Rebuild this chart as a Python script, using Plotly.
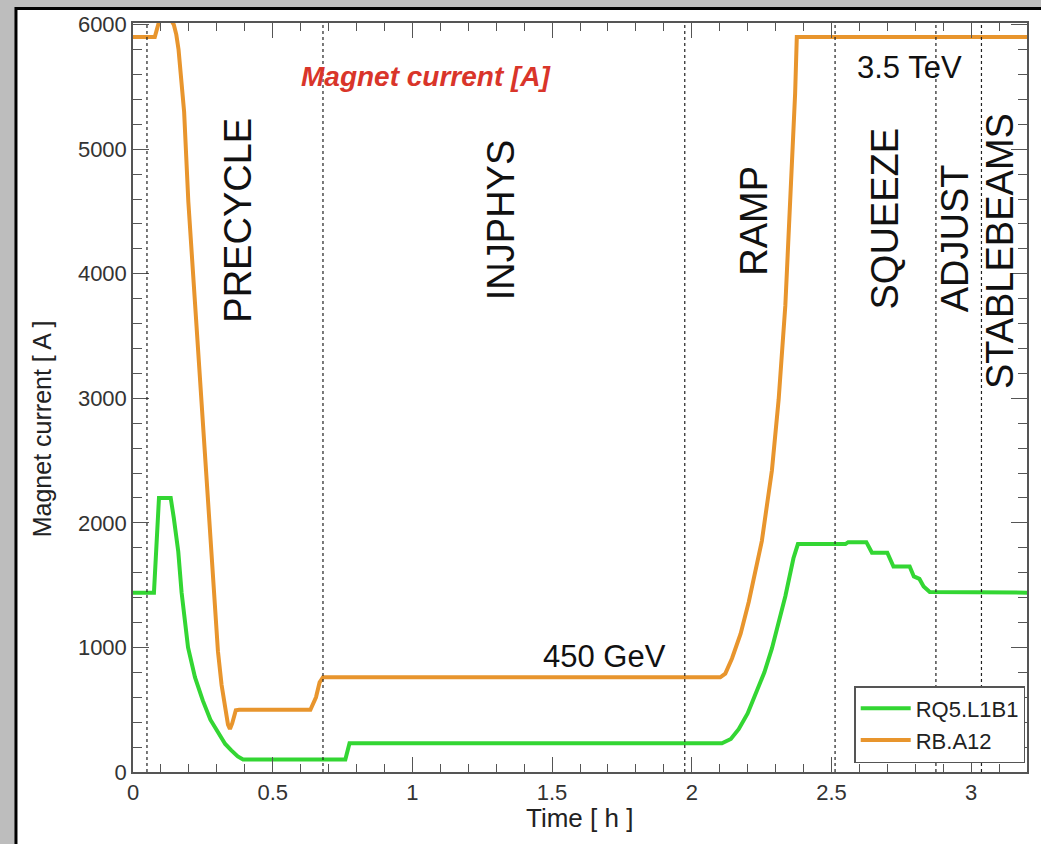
import plotly.graph_objects as go

# ---------------- data ----------------
rq5_time = [0, 0.075, 0.093, 0.135, 0.146, 0.162, 0.174, 0.197, 0.222, 0.25, 0.277, 0.305, 0.33,
            0.352, 0.375, 0.394, 0.76, 0.775, 2.108, 2.14, 2.168, 2.2, 2.227, 2.26, 2.287, 2.335,
            2.364, 2.38, 2.55, 2.56, 2.625, 2.645, 2.70, 2.722, 2.78, 2.795, 2.815, 2.83, 2.852, 3.2]
rq5_current = [1440, 1440, 2200, 2200, 2040, 1770, 1440, 1000, 760, 573, 420, 310, 225,
               173, 125, 100, 100, 230, 230, 265, 344, 470, 611, 800, 992, 1411,
               1716, 1830, 1830, 1845, 1845, 1760, 1760, 1650, 1650, 1570, 1550, 1490, 1445, 1440]

rb_time = [0, 0.078, 0.094, 0.138, 0.146, 0.155, 0.163, 0.172, 0.183, 0.198, 0.257, 0.304, 0.317,
           0.33, 0.34, 0.347, 0.355, 0.368, 0.38, 0.635, 0.655, 0.668, 0.68, 2.102, 2.12, 2.144,
           2.175, 2.204, 2.251, 2.287, 2.311, 2.335, 2.352, 2.37, 2.376, 3.2]
rb_current = [5900, 5900, 6030, 6030, 6000, 5920, 5800, 5600, 5300, 4580, 2570, 970, 700,
              500, 380, 345, 390, 495, 500, 500, 600, 720, 760, 760, 790, 911,
              1110, 1365, 1856, 2423, 2990, 3746, 4501, 5446, 5900, 5900]

series_names = ["RQ5.L1B1", "RB.A12"]
series_colors = ["#33d633", "#e8952d"]

phase_bounds = [0.05, 0.68, 1.975, 2.513, 2.874, 3.037]
phase_names = ["PRECYCLE", "INJPHYS", "RAMP", "SQUEEZE", "ADJUST", "STABLEBEAMS"]
phase_label_t = [0.375, 1.32, 2.224, 2.692, 2.942, 3.106]
phase_label_a = [4432, 4428, 4428, 4444, 4284, 4180]

x_ticks = [0, 0.5, 1, 1.5, 2, 2.5, 3]
x_ticktext = ["0", "0.5", "1", "1.5", "2", "2.5", "3"]
y_ticks = [0, 1000, 2000, 3000, 4000, 5000, 6000]
y_ticktext = ["0", "1000", "2000", "3000", "4000", "5000", "6000"]

FONT = "Liberation Sans, Arial, Helvetica, sans-serif"

fig = go.Figure()
fig.add_trace(go.Scatter(x=rq5_time, y=rq5_current, mode="lines", name=series_names[0],
                         line=dict(color=series_colors[0], width=4)))
fig.add_trace(go.Scatter(x=rb_time, y=rb_current, mode="lines", name=series_names[1],
                         line=dict(color=series_colors[1], width=4)))

shapes = [
    dict(type="rect", xref="paper", yref="paper", x0=-0.1309, x1=1.3, y0=-0.3, y1=1.0193,
         fillcolor="white", line=dict(color="black", width=3), layer="below"),
]
for b in phase_bounds:
    shapes.append(dict(type="line", xref="x", yref="paper", x0=b, x1=b, y0=0, y1=1,
                       line=dict(color="#222", width=1.2, dash="3px,3px"), layer="above"))

annotations = []
for name, t, a in zip(phase_names, phase_label_t, phase_label_a):
    annotations.append(dict(x=t, y=a, xref="x", yref="y", text=name, textangle=-90,
                            showarrow=False, font=dict(family=FONT, size=38, color="#111"),
                            xanchor="center", yanchor="middle"))
annotations += [
    dict(x=1.052, y=5580, xref="x", yref="y", text="<b><i>Magnet current [A]</i></b>",
         showarrow=False, xanchor="center", yanchor="middle",
         font=dict(family=FONT, size=28, color="#d9352a")),
    dict(x=1.688, y=925, xref="x", yref="y", text="450 GeV", xanchor="center", yanchor="middle",
         showarrow=False, font=dict(family=FONT, size=31, color="#111")),
    dict(x=2.778, y=5659, xref="x", yref="y", text="3.5 TeV", xanchor="center", yanchor="middle",
         showarrow=False, font=dict(family=FONT, size=31, color="#111")),
    dict(x=-0.1019, y=0.4588, xref="paper", yref="paper", text="Magnet current [ A ]",
         textangle=-90, showarrow=False, xanchor="center", yanchor="middle",
         font=dict(family=FONT, size=25, color="#222")),
    dict(x=0.4997, y=-0.0612, xref="paper", yref="paper", text="Time [ h ]",
         showarrow=False, xanchor="center", yanchor="middle",
         font=dict(family=FONT, size=26, color="#222")),
]

axis_common = dict(showline=True, linecolor="#555", linewidth=1.5, mirror="ticks",
                   ticks="inside", tickcolor="#555", tickwidth=1.3, showgrid=False,
                   zeroline=False, tickfont=dict(family=FONT, size=22, color="#333"))

fig.update_layout(
    width=1041, height=844,
    margin=dict(l=133, r=12, t=20, b=72),
    paper_bgcolor="#bdbdbd",
    plot_bgcolor="rgba(0,0,0,0)",
    shapes=shapes,
    annotations=annotations,
    showlegend=True,
    legend=dict(x=0.998, y=0.012, xanchor="right", yanchor="bottom",
                bgcolor="white", bordercolor="#555", borderwidth=1.5, itemwidth=50,
                font=dict(family=FONT, size=22, color="#222"), tracegroupgap=0),
    xaxis=dict(range=[0, 3.2], tickvals=x_ticks, ticktext=x_ticktext, ticklen=15,
               minor=dict(dtick=0.1, ticklen=8, tickcolor="#555", ticks="inside"),
               **axis_common),
    yaxis=dict(range=[0, 6013], tickvals=y_ticks, ticktext=y_ticktext, ticklen=16,
               minor=dict(dtick=200, ticklen=9, tickcolor="#555", ticks="inside"),
               **axis_common),
)

fig.write_html("out.html")
